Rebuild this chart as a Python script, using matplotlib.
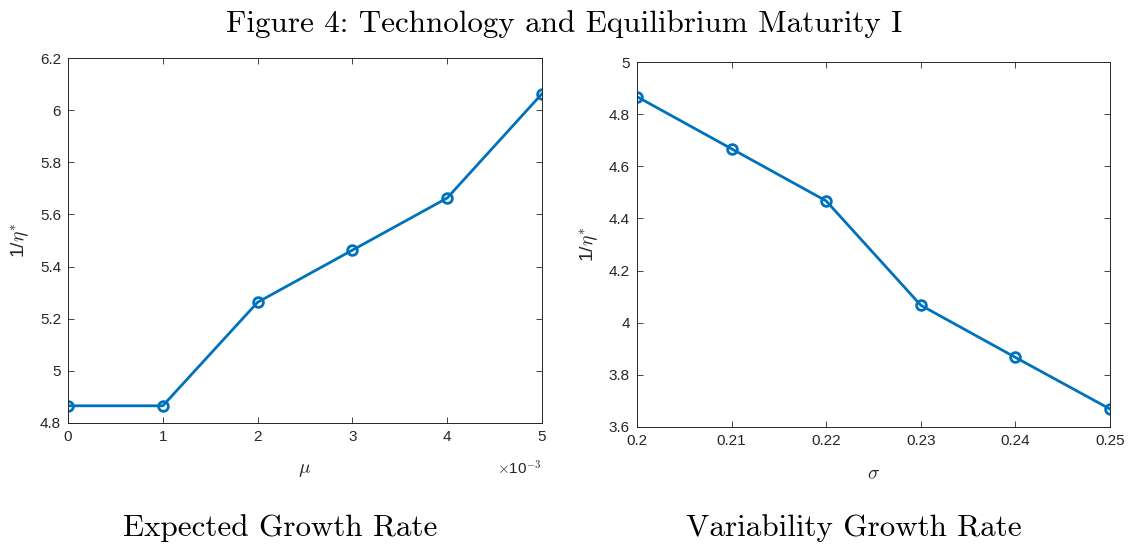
import matplotlib
matplotlib.use("Agg")
import matplotlib.pyplot as plt

mu = [0, 1, 2, 3, 4, 5]            # x 1e-3
inv_eta_mu = [4.866, 4.866, 5.263, 5.463, 5.663, 6.063]
sigma = [0.20, 0.21, 0.22, 0.23, 0.24, 0.25]
inv_eta_sigma = [4.867, 4.667, 4.467, 4.067, 3.867, 3.669]

left_yticks = [4.8, 5, 5.2, 5.4, 5.6, 5.8, 6, 6.2]
left_yticklabels = ["4.8", "5", "5.2", "5.4", "5.6", "5.8", "6", "6.2"]
right_yticks = [3.6, 3.8, 4, 4.2, 4.4, 4.6, 4.8, 5]
right_yticklabels = ["3.6", "3.8", "4", "4.2", "4.4", "4.6", "4.8", "5"]
right_xticklabels = ["0.2", "0.21", "0.22", "0.23", "0.24", "0.25"]

plt.rcParams['font.family'] = ['Liberation Sans', 'DejaVu Sans']
plt.rcParams['mathtext.fontset'] = 'cm'

BLUE = '#0072BD'
fig = plt.figure(figsize=(11.29, 5.44), dpi=100)

def style(ax):
    ax.tick_params(direction='in', top=True, right=True, length=4, width=0.6,
                   labelsize=11, colors='#262626', pad=5)
    for s in ax.spines.values():
        s.set_linewidth(0.7)
        s.set_color('#262626')

ylab = r'1/$\eta$$^{\mathsf{*}}$'

ax1 = fig.add_axes([68/1129, 1-423/544, (542-68)/1129, (423-58)/544])
ax1.plot(mu, inv_eta_mu, '-o', color=BLUE, lw=2, ms=7, mfc='none', mew=2)
ax1.set_xlim(0, 5)
ax1.set_ylim(4.8, 6.2)
ax1.set_xticks(mu)
ax1.set_xticklabels([str(m) for m in mu])
ax1.set_yticks(left_yticks)
ax1.set_yticklabels(left_yticklabels)
style(ax1)
ax1.set_xlabel(r'$\mu$', fontsize=14, labelpad=13, color='#262626')
ax1.set_ylabel('1/$\\eta^{*}$', fontsize=14, labelpad=6, color='#262626')
ax1.text(1.0, -0.1, r'$\times$10$^{-3}$', transform=ax1.transAxes,
         ha='right', va='top', fontsize=11, color='#262626')

ax2 = fig.add_axes([637/1129, 1-427/544, (1110-637)/1129, (427-62)/544])
ax2.plot(sigma, inv_eta_sigma, '-o', color=BLUE, lw=2, ms=7, mfc='none', mew=2)
ax2.set_xlim(0.2, 0.25)
ax2.set_ylim(3.6, 5)
ax2.set_xticks(sigma)
ax2.set_xticklabels(right_xticklabels)
ax2.set_yticks(right_yticks)
ax2.set_yticklabels(right_yticklabels)
style(ax2)
ax2.set_xlabel(r'$\sigma$', fontsize=14, labelpad=13, color='#262626')
ax2.set_ylabel('1/$\\eta^{*}$', fontsize=14, labelpad=6, color='#262626')

serif = ['cmr10', 'DejaVu Serif']
fig.text(0.5, 1-24/544, 'Figure 4: Technology and Equilibrium Maturity I',
         ha='center', va='center', fontsize=22.4, family=serif)
fig.text(280/1129, 1-528/544, 'Expected Growth Rate', ha='center', va='center',
         fontsize=22.4, family=serif)
fig.text(854/1129, 1-528/544, 'Variability Growth Rate', ha='center', va='center',
         fontsize=22.4, family=serif)

fig.savefig('out.png', dpi=100)
